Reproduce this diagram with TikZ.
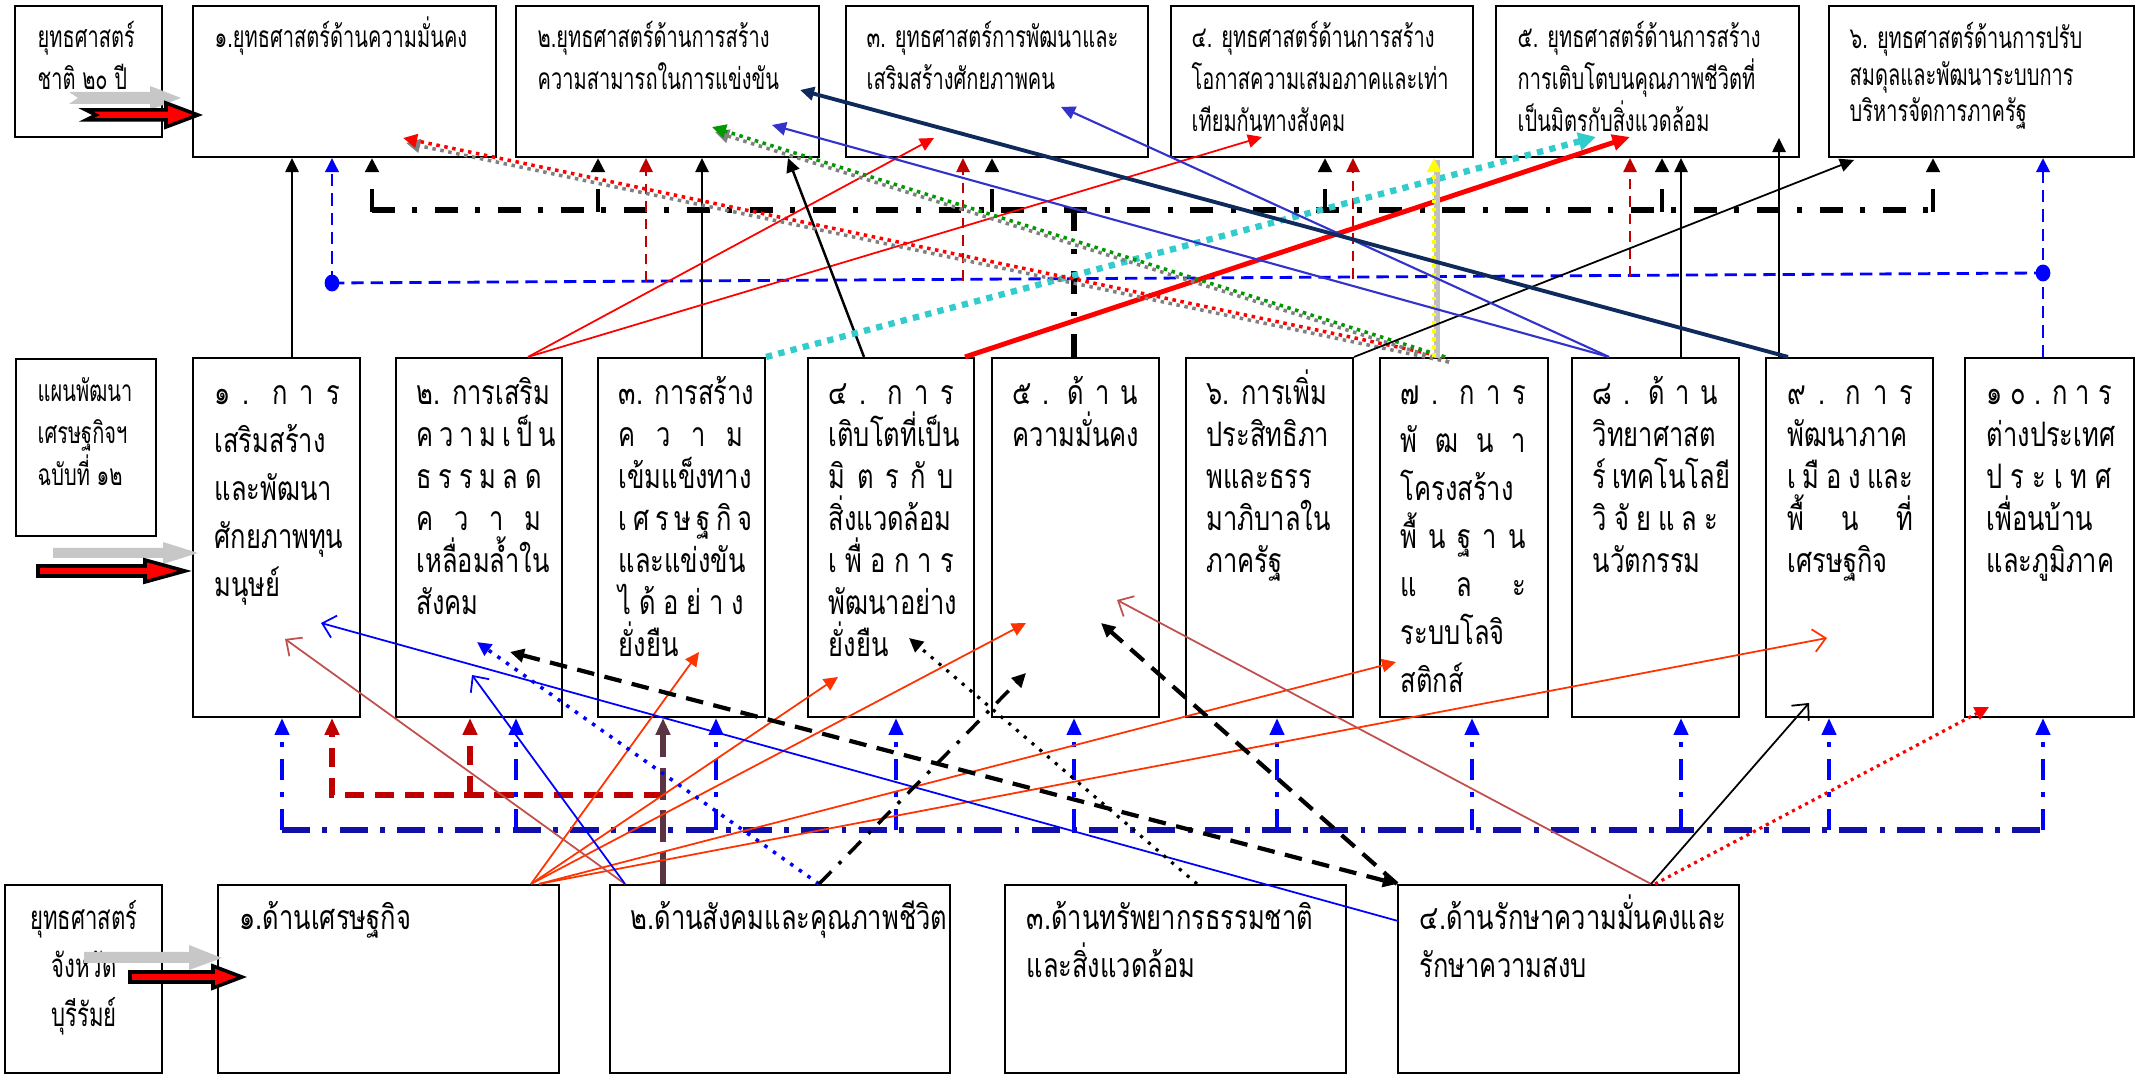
\documentclass[tikz,border=0pt]{standalone}
\usepackage{fontspec}
\newfontfamily\thaiT[Script=Thai,FakeStretch=0.67]{Loma}
\newfontfamily\thaiM[Script=Thai,FakeStretch=0.755]{Loma}
\usetikzlibrary{arrows.meta,fit}
\definecolor{dred}{HTML}{C00000}
\definecolor{ored}{HTML}{FF3300}
\definecolor{brn}{HTML}{C0504D}
\definecolor{mblue}{HTML}{3333CC}
\definecolor{navy}{HTML}{0F2A5C}
\definecolor{cyn}{HTML}{33CCCC}
\definecolor{grn}{HTML}{009900}
\definecolor{yel}{HTML}{FFFF00}
\definecolor{maroon}{HTML}{5B3342}
\definecolor{dkblue}{HTML}{1010A8}
\newcommand\dl[1]{\makebox[1.25cm][s]{#1}}
\begin{document}
\begin{tikzpicture}[x=0.01cm,y=-0.01cm,
  box/.style={draw,line width=0.6pt,inner sep=0pt},
  ttxt/.style={inner sep=0pt,anchor=base west,align=left,font=\thaiT\fontsize{8.5}{11.95}\selectfont},
  mtxt/.style={inner sep=0pt,anchor=base west,align=left,font=\thaiM\fontsize{9.6}{11.95}\selectfont},
  mwtxt/.style={inner sep=0pt,anchor=base west,align=left,font=\thaiM\fontsize{9.6}{13.66}\selectfont},
  btxt/.style={inner sep=0pt,anchor=base west,align=left,font=\thaiM\fontsize{9.6}{13.66}\selectfont},
  tri/.style={-{Triangle[length=4pt,width=3.8pt]}},
  trib/.style={{Triangle[length=4pt,width=3.8pt]}-{Triangle[length=4pt,width=3.8pt]}},
  barb/.style={-{Straight Barb[length=3.5pt,width=6.5pt]}},
  thin/.style={line width=0.5pt},
  bdd/.style={line width=1.7pt,dash pattern=on 6.5pt off 5pt on 1.4pt off 5pt},
  bddv/.style={line width=1.1pt,dash pattern=on 6.5pt off 5pt on 1.4pt off 5pt},
  bluedash/.style={blue,line width=0.8pt,dash pattern=on 3.5pt off 2pt},
  rdash/.style={dred,line width=0.5pt,dash pattern=on 3pt off 2pt},
  rdthick/.style={dred,line width=1.5pt,dash pattern=on 5.5pt off 3pt},
  bdv/.style={blue,line width=1.1pt,dash pattern=on 6pt off 3.5pt on 1.2pt off 3.5pt},
  bdh/.style={dkblue,line width=1.5pt,dash pattern=on 8pt off 3.5pt on 1.4pt off 3.5pt},
  dots/.style={line width=1pt,dash pattern=on 1pt off 1.3pt},
  sdots/.style={gray,line width=1pt,dash pattern=on 1pt off 1.3pt},
]
\useasboundingbox (0,0) rectangle (2146,1074);
% ---------------- boxes ----------------
\node[box,fit={(15,6) (162,137)}] (a0) {};
\node[box,fit={(193,6) (496,157)}] (t1) {};
\node[box,fit={(516,6) (819,157)}] (t2) {};
\node[box,fit={(846,6) (1148,157)}] (t3) {};
\node[box,fit={(1171,6) (1473,157)}] (t4) {};
\node[box,fit={(1496,6) (1799,157)}] (t5) {};
\node[box,fit={(1829,6) (2134,157)}] (t6) {};
\node[box,fit={(16,359) (156,536)}] (m0) {};
\node[box,fit={(193,358) (360,717)}] (m1) {};
\node[box,fit={(396,358) (562,717)}] (m2) {};
\node[box,fit={(598,358) (765,717)}] (m3) {};
\node[box,fit={(808,358) (974,717)}] (m4) {};
\node[box,fit={(992,358) (1159,717)}] (m5) {};
\node[box,fit={(1186,358) (1353,717)}] (m6) {};
\node[box,fit={(1380,358) (1548,717)}] (m7) {};
\node[box,fit={(1572,358) (1739,717)}] (m8) {};
\node[box,fit={(1766,358) (1933,717)}] (m9) {};
\node[box,fit={(1965,358) (2134,717)}] (m10) {};
\node[box,fit={(5,885) (162,1073)}] (b0) {};
\node[box,fit={(218,885) (559,1073)}] (b1) {};
\node[box,fit={(610,885) (950,1073)}] (b2) {};
\node[box,fit={(1005,885) (1346,1073)}] (b3) {};
\node[box,fit={(1398,885) (1739,1073)}] (b4) {};
% ---------------- texts (anchor = baseline of last line) ----------------
\node[ttxt] (a0t) at (37,90) {ยุทธศาสตร์\\ชาติ ๒๐ ปี};
\node[ttxt] (t1t) at (214,48) {๑.ยุทธศาสตร์ด้านความมั่นคง};
\node[ttxt] (t2t) at (537,90) {๒.ยุทธศาสตร์ด้านการสร้าง\\ความสามารถในการแข่งขัน};
\node[ttxt] (t3t) at (866,90) {๓. ยุทธศาสตร์การพัฒนาและ\\เสริมสร้างศักยภาพคน};
\node[ttxt] (t4t) at (1191,132) {๔. ยุทธศาสตร์ด้านการสร้าง\\โอกาสความเสมอภาคและเท่า\\เทียมกันทางสังคม};
\node[ttxt] (t5t) at (1517,132) {๕. ยุทธศาสตร์ด้านการสร้าง\\การเติบโตบนคุณภาพชีวิตที่\\เป็นมิตรกับสิ่งแวดล้อม};
\node[ttxt,font=\thaiT\fontsize{8.5}{10.5}\selectfont] (t6t) at (1849,122) {๖. ยุทธศาสตร์ด้านการปรับ\\สมดุลและพัฒนาระบบการ\\บริหารจัดการภาครัฐ};
\node[ttxt] (m0t) at (37,486) {แผนพัฒนา\\เศรษฐกิจฯ\\ฉบับที่ ๑๒};
\node[mwtxt] (m1t) at (214,597) {\dl{๑ . ก า ร}\\เสริมสร้าง\\และพัฒนา\\ศักยภาพทุน\\มนุษย์};
\node[mtxt] (m2t) at (416,615) {๒. การเสริม\\\dl{ค ว า ม เ ป็ น}\\\dl{ธ ร ร ม ล ด}\\\dl{ค ว า ม}\\เหลื่อมล้ำใน\\สังคม};
\node[mtxt] (m3t) at (618,657) {๓. การสร้าง\\\dl{ค ว า ม}\\เข้มแข็งทาง\\\dl{เ ศ ร ษ ฐ กิ จ}\\และแข่งขัน\\\dl{ไ ด้ อ ย่ า ง}\\ยั่งยืน};
\node[mtxt] (m4t) at (828,657) {\dl{๔ . ก า ร}\\เติบโตที่เป็น\\\dl{มิ ต ร กั บ}\\สิ่งแวดล้อม\\\dl{เ พื่ อ ก า ร}\\พัฒนาอย่าง\\ยั่งยืน};
\node[mtxt] (m5t) at (1012,447) {\dl{๕ . ด้ า น}\\ความมั่นคง};
\node[mtxt] (m6t) at (1206,573) {๖. การเพิ่ม\\ประสิทธิภา\\พและธรร\\มาภิบาลใน\\ภาครัฐ};
\node[mwtxt] (m7t) at (1400,693) {\dl{๗ . ก า ร}\\\dl{พั ฒ น า}\\โครงสร้าง\\\dl{พื้ น ฐ า น}\\\dl{แ ล ะ}\\ระบบโลจิ\\สติกส์};
\node[mtxt] (m8t) at (1592,573) {\dl{๘ . ด้ า น}\\วิทยาศาสต\\\dl{ร์ เทคโนโลยี}\\\dl{วิ จั ย แ ล ะ}\\นวัตกรรม};
\node[mtxt] (m9t) at (1787,573) {\dl{๙ . ก า ร}\\พัฒนาภาค\\\dl{เ มื อ ง และ}\\\dl{พื้ น ที่}\\เศรษฐกิจ};
\node[mtxt] (m10t) at (1986,573) {\dl{๑ ๐ . ก า ร}\\ต่างประเทศ\\\dl{ป ร ะ เ ท ศ}\\เพื่อนบ้าน\\และภูมิภาค};
\node[btxt,font=\thaiT\fontsize{9.4}{13.66}\selectfont,align=center,anchor=base] (b0t) at (84,1026) {ยุทธศาสตร์\\จังหวัด\\บุรีรัมย์};
\node[btxt] (b1t) at (239,930) {๑.ด้านเศรษฐกิจ};
\node[btxt] (b2t) at (630,930) {๒.ด้านสังคมและคุณภาพชีวิต};
\node[btxt] (b3t) at (1026,978) {๓.ด้านทรัพยากรธรรมชาติ\\และสิ่งแวดล้อม};
\node[btxt] (b4t) at (1419,978) {๔.ด้านรักษาความมั่นคงและ\\รักษาความสงบ};
% ---------------- block arrows ----------------
\fill[black!22] (69,92) -- (150,92) -- (150,86) -- (181,98) -- (150,110) -- (150,104) -- (69,104) -- (78,98) -- cycle;
\filldraw[fill=red,draw=black,line width=1pt] (86,110) -- (166,110) -- (166,103) -- (198,115) -- (166,127) -- (166,120) -- (86,120) -- (96,115) -- cycle;
\fill[black!22] (53,548) -- (163,548) -- (163,542) -- (198,553) -- (163,564) -- (163,558) -- (53,558) -- cycle;
\filldraw[fill=red,draw=black,line width=1pt] (38,566) -- (145,566) -- (145,560) -- (185,571) -- (145,582) -- (145,576) -- (38,576) -- cycle;
\fill[black!22] (84,952) -- (189,952) -- (189,945) -- (222,958) -- (189,970) -- (189,963) -- (84,963) -- cycle;
\filldraw[fill=red,draw=black,line width=1pt] (130,972) -- (213,972) -- (213,966) -- (242,977) -- (213,988) -- (213,982) -- (130,982) -- cycle;
% ---------------- top connectors ----------------
\coordinate (bd1) at (332,283);
\coordinate (bd2) at (2043,273);
\draw[bluedash] (bd1) -- (bd2);
\draw[bluedash,tri] (bd1) -- (332,0 |- t1.south);
\draw[bluedash,tri] (2043,0 |- m10.north) -- (2043,0 |- t6.south);
\fill[blue] (bd1) circle[x radius=2.1pt,y radius=2.4pt];
\fill[blue] (bd2) circle[x radius=2.1pt,y radius=2.4pt];
\draw[thin,tri] (292,0 |- m1.north) -- (292,0 |- t1.south);
\draw[thin,tri] (702,0 |- m3.north) -- (702,0 |- t2.south);
\draw[thin,tri] (1681,0 |- m8.north) -- (1681,0 |- t5.south);
\draw[thin,tri] (1779,0 |- m9.north) -- (1779,138);
\draw[bdd] (1074,0 |- m5.north) -- (1074,210);
\draw[bdd] (372,210) -- (1933,210);
\foreach \xx/\tt in {372/t1,598/t2,992/t3,1325/t4,1662/t5,1933/t6}
  \draw[bddv,tri] (\xx,212) -- (\xx,0 |- \tt.south);
\foreach \xx/\yy/\tt in {646/282/t2,963/281/t3,1353/279/t4,1630/277/t5}
  \draw[rdash,tri] (\xx,\yy) -- (\xx,0 |- \tt.south);
\draw[red,thin,tri] (528,0 |- m2.north) -- (934,138);
\draw[red,thin,tri] (528,0 |- m2.north) -- (1262,137);
\draw[line width=0.7pt,tri] (864,0 |- m4.north) -- (788,0 |- t2.south);
\draw[cyn,line width=1.8pt,dash pattern=on 1.8pt off 1.8pt,-{Triangle[length=5pt,width=5pt]}] (m3.north east) -- (1596,137);
\draw[red,line width=1.4pt,-{Triangle[length=5pt,width=4.5pt]}] (965,0 |- m4.north) -- (1630,137);
\draw[sdots,-{Triangle[length=4pt,width=3.8pt]}] (1449,362) -- (406,143);
\draw[red,dots,-{Triangle[length=4pt,width=3.8pt]}] (1445,0 |- m7.north) -- (403,138);
\draw[sdots,-{Triangle[length=4pt,width=3.8pt]}] (1449,362) -- (715,132);
\draw[grn,dots,-{Triangle[length=4pt,width=3.8pt]}] (1445,0 |- m7.north) -- (712,127);
\draw[black!25,line width=1.6pt] (1437,358) -- (1437,160);
\draw[yel,dots,line width=1.2pt,tri] (1434,0 |- m7.north) -- (1434,0 |- t4.south);
\draw[thin,tri] (m6.north east) -- (1854,160);
\draw[mblue,line width=0.6pt,tri] (1609,0 |- m8.north) -- (1061,107);
\draw[mblue,line width=0.6pt,tri] (1609,0 |- m8.north) -- (772,125);
\draw[navy,line width=1.1pt,tri] (1788,0 |- m9.north) -- (800,90);
% ---------------- bottom connectors ----------------
\draw[bdh] (282,830) -- (2043,830);
\foreach \xx/\mm in {282/m1,516/m2,716/m3,896/m4,1074/m5,1277/m6,1472/m7,1681/m8,1829/m9,2043/m10}
  \draw[bdv,-{Triangle[length=4.8pt,width=4pt]}] (\xx,830) -- (\xx,0 |- \mm.south);
\draw[rdthick,-{Triangle[length=4.8pt,width=4pt]}] (663,795) -- (332,795) -- (332,0 |- m1.south);
\draw[rdthick,-{Triangle[length=4.8pt,width=4pt]}] (470,795) -- (470,0 |- m2.south);
\draw[maroon,line width=1.5pt,dash pattern=on 9pt off 3pt,-{Triangle[length=4.8pt,width=4pt]}] (663,0 |- b2.north) -- (663,0 |- m3.south);
\draw[ored,thin,tri] (531,0 |- b1.north) -- (699,652);
\draw[ored,thin,tri] (531,0 |- b1.north) -- (838,677);
\draw[ored,thin,tri] (531,0 |- b1.north) -- (1026,623);
\draw[ored,thin,tri] (539,0 |- b1.north) -- (1396,662);
\draw[ored,thin,barb] (539,0 |- b1.north) -- (1827,638);
\draw[brn,thin,barb] (625,0 |- b2.north) -- (285,639);
\draw[blue,thin,barb] (625,0 |- b2.north) -- (472,675);
\draw[blue,thin,barb] (1398,921) -- (321,623);
\draw[blue,line width=1pt,dash pattern=on 1pt off 2pt,tri] (819,0 |- b2.north) -- (477,642);
\draw[line width=1.2pt,dash pattern=on 5pt off 3pt,trib] (510,652) -- (b4.north west);
\draw[line width=1.2pt,dash pattern=on 5pt off 3pt,tri] (b4.north west) -- (1101,623);
\draw[line width=0.9pt,dash pattern=on 0.9pt off 2pt,tri] (1197,0 |- b3.north) -- (909,638);
\draw[line width=1pt,dash pattern=on 5pt off 3pt on 1pt off 3pt,tri] (819,0 |- b2.north) -- (1026,673);
\draw[brn,thin,barb] (1651,0 |- b4.north) -- (1117,600);
\draw[thin,barb] (1651,0 |- b4.north) -- (1809,703);
\draw[red,line width=0.9pt,dash pattern=on 0.9pt off 1.2pt,tri] (1655,0 |- b4.north) -- (1989,707);
\end{tikzpicture}
\end{document}
